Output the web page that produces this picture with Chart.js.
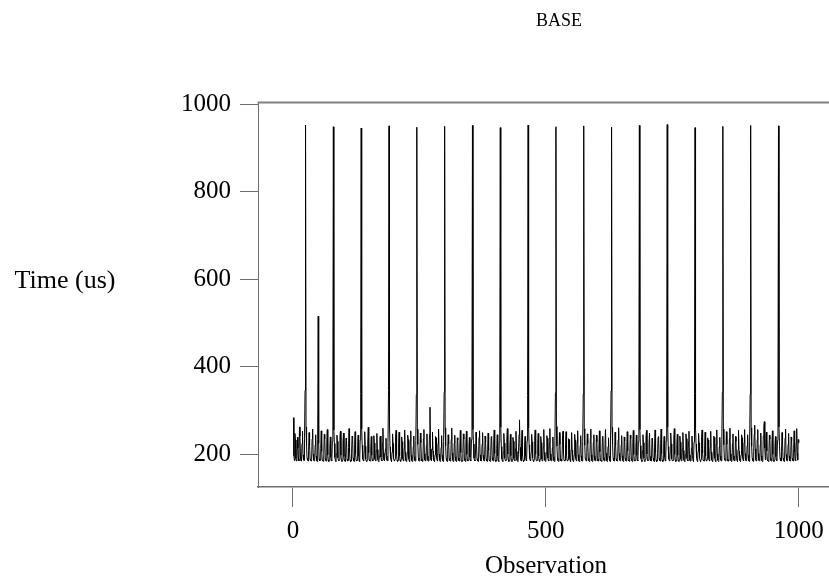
<!DOCTYPE html>
<html>
<head>
<meta charset="utf-8">
<script src="https://cdn.jsdelivr.net/npm/chart.js@4/dist/chart.umd.min.js"></script>
<style>
html,body{margin:0;padding:0;background:#fff;overflow:hidden;}
#wrap{width:829px;height:579px;position:relative;overflow:hidden;}
</style>
</head>
<body>
<div id="wrap"><canvas id="c" width="845" height="579"></canvas></div>
<script>
// ---- Data ----
const chartTitle = "BASE";
const yAxisTitle = "Time (us)";
const xAxisTitle = "Observation";
const xTickValues = [0, 500, 1000];
const yTickValues = [200, 400, 600, 800, 1000];

const lead    = [283,196,185,247,232,190,184,186,238,214,188,184,262,241,193,185,184,224,252,198,186,185,236,345];
const cycle01 = [952,262,218,190,186,184,208,249,221,189,185,184,187,234,257,200,186,184,185,221,244,195,185,183,233,515,224,189,184,186,212,253,206,186,184,183,199,245,235,190,185,184,227,256,198,186,183,185,216,239,193,185,184,229,342];
const cycle02 = [948,255,224,192,185,183,201,243,229,191,185,184,188,240,252,197,185,183,186,226,248,194,184,183,190,236,231,188,184,185,215,258,204,186,183,184,202,241,238,191,185,183,222,251,201,186,184,185,219,243,196,185,183,232,338];
const cycle03 = [945,258,220,189,185,184,206,251,218,188,184,183,186,229,261,203,186,184,184,218,240,197,186,184,187,242,225,189,185,184,209,247,210,187,184,183,196,238,241,193,186,184,225,259,202,187,184,184,212,236,195,186,184,226,345];
const cycle04 = [950,264,216,190,186,183,204,246,224,190,185,184,189,237,254,199,185,183,185,223,250,196,185,183,188,239,228,190,185,184,213,255,205,186,183,184,200,243,233,189,184,183,229,253,197,185,183,186,217,241,194,185,184,231,336];
const cycle05 = [947,257,222,191,185,184,203,248,226,189,184,183,187,235,256,201,186,184,185,220,246,195,185,184,189,245,307,212,187,184,210,250,207,186,184,183,198,240,237,192,185,184,224,257,200,186,183,185,215,242,197,185,183,228,341];
const cycle06 = [949,260,219,190,185,183,207,244,223,190,185,184,188,233,259,202,186,183,184,225,243,194,185,183,186,237,232,191,185,184,214,254,203,185,183,184,201,246,234,190,185,183,226,252,199,186,184,185,218,238,193,185,184,233,343];
const cycle07 = [951,256,223,191,186,184,202,250,220,189,184,183,186,238,253,198,185,184,186,222,249,197,186,184,188,241,227,189,184,183,211,248,208,187,184,183,197,239,240,192,186,184,228,255,201,186,183,184,213,244,196,185,183,227,339];
const cycle08 = [946,261,217,189,185,183,205,247,225,190,185,184,187,236,258,200,186,183,185,219,245,196,185,183,187,238,229,190,185,184,212,252,206,186,184,183,199,244,278,215,188,184,223,254,198,185,183,185,216,240,195,186,184,230,334];
const cycle09 = [952,259,221,190,186,184,204,245,227,191,185,183,188,231,255,199,185,184,186,224,247,195,184,183,189,240,226,189,184,185,216,256,204,186,183,184,203,242,236,191,185,184,225,258,200,186,184,185,214,239,194,185,183,231,340];
const cycle10 = [948,263,218,191,185,183,206,249,222,189,184,184,186,239,252,201,186,184,185,221,251,197,185,184,187,235,233,190,185,183,210,249,209,187,184,183,198,245,232,190,185,184,227,253,198,185,183,186,219,242,196,185,184,229,337];
const cycle11 = [950,258,220,190,186,184,203,246,224,190,185,183,189,236,257,198,185,183,184,226,244,195,186,184,188,243,228,189,184,184,213,253,205,186,184,183,200,240,239,192,186,184,222,256,202,186,183,185,217,237,195,185,183,232,344];
const cycle12 = [947,261,222,191,185,184,205,250,221,189,185,184,187,232,260,201,186,184,185,220,242,196,185,183,186,239,230,190,185,184,211,251,207,187,184,183,197,243,236,190,185,183,226,254,199,186,184,185,215,243,197,186,184,228,339];
const cycle13 = [951,256,219,190,186,183,207,244,226,190,184,183,188,237,254,200,185,184,186,223,248,194,185,184,189,236,231,191,185,183,214,255,204,186,183,184,202,238,240,191,185,184,224,257,201,186,183,184,218,240,193,185,184,230,342];
const cycle14 = [953,262,217,189,185,184,204,248,223,189,185,184,186,234,258,199,186,183,185,222,245,197,185,183,187,241,227,189,184,185,212,249,208,186,184,183,199,246,235,190,186,184,228,252,198,185,184,186,214,241,196,185,183,227,338];
const cycle15 = [946,259,223,191,185,183,206,247,225,190,185,183,188,238,255,202,186,184,184,219,250,195,185,184,188,237,232,190,185,184,215,252,205,187,184,183,201,241,238,191,185,183,223,255,200,186,183,185,216,238,195,186,184,233,341];
const cycle16 = [949,257,221,190,186,184,203,251,222,189,184,184,187,235,259,200,185,183,185,224,246,196,186,184,186,240,229,189,185,183,210,254,206,186,184,183,198,244,237,192,186,184,226,256,201,186,184,185,219,244,197,185,183,229,336];
const cycle17 = [951,260,218,190,185,183,205,245,266,212,187,184,187,233,256,201,186,184,185,221,248,196,185,183,188,242,262,274,214,187,211,250,207,186,184,183,200,243,234,190,185,184,224,253,199,185,183,186,217,240,194,185,184,231,335];
const cycle18 = [950,262,220,191,185,184,206,249,224,190,185,183,188,236,257,199,186,184,185,222,247,196,185,184,187,239,230,190,185,184,212,253,205,186,184,225,258,201,186,233,226];

const timeUs = [].concat(lead, cycle01, cycle02, cycle03, cycle04, cycle05, cycle06,
  cycle07, cycle08, cycle09, cycle10, cycle11, cycle12, cycle13, cycle14, cycle15,
  cycle16, cycle17, cycle18);
const observations = timeUs.map((_, i) => i + 1);

// ---- Styling ----
const FONT = "'Liberation Serif', 'Times New Roman', serif";
const AXIS_GRAY = '#6e6e6e';

const textPlugin = {
  id: 'texts',
  afterDraw(chart) {
    const ctx = chart.ctx;
    const a = chart.chartArea;
    ctx.save();
    // top frame line
    ctx.strokeStyle = '#808080';
    ctx.lineWidth = 2;
    ctx.beginPath();
    ctx.moveTo(a.left - 0.5, a.top + 0.5);
    ctx.lineTo(a.right + 5, a.top + 0.5);
    ctx.stroke();
    ctx.fillStyle = '#000';
    ctx.textAlign = 'center';
    ctx.textBaseline = 'middle';
    ctx.font = "18px " + FONT;
    ctx.fillText(chartTitle, 559, 21);
    ctx.font = "26px " + FONT;
    ctx.fillText(yAxisTitle, 65, 281);
    ctx.font = "25px " + FONT;
    ctx.fillText(xAxisTitle, 546, 566);
    ctx.restore();
  }
};

new Chart(document.getElementById('c'), {
  type: 'line',
  data: {
    datasets: [{
      data: observations.map((x, i) => ({ x: x, y: timeUs[i] })),
      borderColor: '#000',
      borderWidth: 1,
      pointRadius: 0,
      tension: 0,
      fill: false
    }]
  },
  options: {
    responsive: false,
    animation: false,
    events: [],
    layout: { padding: { top: 102, right: 0, bottom: 0, left: 0 } },
    plugins: { legend: { display: false }, title: { display: false }, tooltip: { enabled: false } },
    scales: {
      x: {
        type: 'linear',
        min: -69,
        max: 1091.5,
        afterFit(s) { s.height = 92; },
        afterBuildTicks(s) { s.ticks = xTickValues.map(v => ({ value: v })); },
        grid: { display: true, drawOnChartArea: false, drawTicks: true, tickLength: 20, tickColor: AXIS_GRAY, tickWidth: 1 },
        border: { display: true, color: AXIS_GRAY, width: 1.5 },
        ticks: { color: '#000', font: { family: FONT, size: 25 }, padding: 9, maxRotation: 0, autoSkip: false,
                 callback: v => String(v) }
      },
      y: {
        type: 'linear',
        min: 124.6,
        max: 1004.6,
        afterFit(s) { s.width = 258; },
        afterBuildTicks(s) { s.ticks = yTickValues.map(v => ({ value: v })); },
        grid: { display: true, drawOnChartArea: false, drawTicks: true, tickLength: 18, tickColor: AXIS_GRAY, tickWidth: 1 },
        border: { display: true, color: AXIS_GRAY, width: 1 },
        ticks: { color: '#000', font: { family: FONT, size: 25 }, padding: 9, autoSkip: false,
                 callback: v => String(v) }
      }
    }
  },
  plugins: [textPlugin]
});
</script>
</body>
</html>
